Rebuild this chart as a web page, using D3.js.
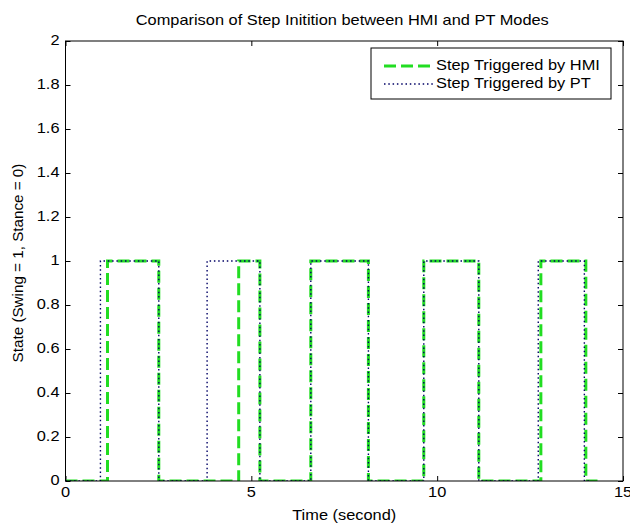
<!DOCTYPE html>
<html>
<head>
<meta charset="utf-8">
<script src="https://cdn.jsdelivr.net/npm/d3@7"></script>
<style>
  html, body { margin: 0; padding: 0; background: #ffffff; }
  svg { display: block; }
  text { font-family: "Liberation Sans", Arial, Helvetica, sans-serif; fill: #000; }
</style>
</head>
<body>
<svg id="chart" width="630" height="525"></svg>
<script>
// ---- data ----
const title = "Comparison of Step Initition between HMI and PT Modes";
const xLabel = "Time (second)";
const yLabel = "State (Swing = 1, Stance = 0)";
const seriesNames = ["Step Triggered by HMI", "Step Triggered by PT"];

const hmiTimes  = [0, 1.13, 2.51, 4.66, 5.23, 6.60, 8.15, 9.64, 11.12, 12.79, 14.00, 14.35];
const hmiStates = [0, 1,    0,    1,    0,    1,    0,    1,    0,     1,     0,     0];

const ptTimes   = [0, 0.94, 2.51, 3.81, 5.23, 6.60, 8.15, 9.64, 11.12, 12.72, 13.96, 14.10];
const ptStates  = [0, 1,    0,    1,    0,    1,    0,    1,    0,     1,     0,     0];

const xTicks = [0, 5, 10, 15];
const yTicks = [0, 0.2, 0.4, 0.6, 0.8, 1, 1.2, 1.4, 1.6, 1.8, 2];

// ---- layout ----
const svg = d3.select("#chart");
const L = 65.5, R = 623, T = 41, B = 481;
const x = d3.scaleLinear().domain([0, 15]).range([L, R]);
const y = d3.scaleLinear().domain([0, 2]).range([B, T]);

const fontSize = 14.5;
const sx = 1.13; // horizontal stretch of glyphs, as in the reference

const hmiColor = "#22dd22", ptColor = "#000066";

// helper: stretched text
function sText(parent, tx, ty, str, anchor, rot) {
  const g = parent.append("g").attr("transform", `translate(${tx},${ty})` + (rot ? ` rotate(${rot})` : "") + ` scale(${sx},1)`);
  g.append("text").attr("text-anchor", anchor).attr("dominant-baseline", "middle")
    .attr("font-size", fontSize).text(str);
  return g;
}

// axes box with inward ticks (labels drawn separately, stretched)
const tickLen = 5;
const gx = svg.append("g").attr("transform", `translate(0,${B})`)
  .call(d3.axisBottom(x).tickValues(xTicks).tickSizeInner(-tickLen).tickSizeOuter(0).tickFormat(""));
const gxTop = svg.append("g").attr("transform", `translate(0,${T})`)
  .call(d3.axisTop(x).tickValues(xTicks).tickSizeInner(-tickLen).tickSizeOuter(0).tickFormat(""));
const gy = svg.append("g").attr("transform", `translate(${L},0)`)
  .call(d3.axisLeft(y).tickValues(yTicks).tickSizeInner(-tickLen).tickSizeOuter(0).tickFormat(""));
const gyR = svg.append("g").attr("transform", `translate(${R},0)`)
  .call(d3.axisRight(y).tickValues(yTicks).tickSizeInner(-tickLen).tickSizeOuter(0).tickFormat(""));

[gx, gxTop, gy, gyR].forEach(g => {
  g.select(".domain").remove();
  g.selectAll(".tick line").attr("stroke", "#000").attr("stroke-width", 1);
});

const fmt = d3.format("~g");
xTicks.forEach(v => sText(svg, x(v), 493, fmt(v), "middle"));
yTicks.forEach(v => sText(svg, L - 6, y(v), fmt(v), "end"));

// plot lines
const lineHmi = d3.line().x((d, i) => x(hmiTimes[i])).y((d, i) => y(hmiStates[i])).curve(d3.curveStepAfter);
const linePt  = d3.line().x((d, i) => x(ptTimes[i])).y((d, i) => y(ptStates[i])).curve(d3.curveStepAfter);

svg.append("clipPath").attr("id", "plotclip")
  .append("rect").attr("x", L).attr("y", T - 2).attr("width", R - L).attr("height", B - T + 2);

const plot = svg.append("g").attr("clip-path", "url(#plotclip)");
plot.append("path").attr("d", lineHmi(hmiTimes))
  .attr("fill", "none").attr("stroke", hmiColor).attr("stroke-width", 3)
  .attr("stroke-dasharray", "12,5");
plot.append("path").attr("d", linePt(ptTimes))
  .attr("fill", "none").attr("stroke", ptColor).attr("stroke-width", 1.4)
  .attr("stroke-dasharray", "1.5,2.8");

// box
svg.append("rect").attr("x", L).attr("y", T).attr("width", R - L).attr("height", B - T)
  .attr("fill", "none").attr("stroke", "#000").attr("stroke-width", 1);

// title & labels
sText(svg, (L + R) / 2 - 2, 21, title, "middle");
sText(svg, (L + R) / 2, 516, xLabel, "middle");
svg.append("g").attr("transform", `translate(19,${(T + B) / 2 + 2}) rotate(-90) scale(1.05,1)`)
  .append("text").attr("text-anchor", "middle").attr("dominant-baseline", "middle")
  .attr("font-size", fontSize).text(yLabel);

// legend
const lg = svg.append("g");
const lx = 371, ly = 48, lw = 240, lh = 51;
lg.append("rect").attr("x", lx).attr("y", ly).attr("width", lw).attr("height", lh)
  .attr("fill", "#fff").attr("stroke", "#000").attr("stroke-width", 1);
const rows = [
  { name: seriesNames[0], color: hmiColor, w: 3, dash: "12,5" },
  { name: seriesNames[1], color: ptColor, w: 1.4, dash: "1.5,2.8" }
];
rows.forEach((r, i) => {
  const yy = ly + 18 + i * 18;
  lg.append("line").attr("x1", lx + 13).attr("x2", lx + 62).attr("y1", yy).attr("y2", yy)
    .attr("stroke", r.color).attr("stroke-width", r.w).attr("stroke-dasharray", r.dash);
  sText(lg, lx + 65, yy, r.name, "start");
});
</script>
</body>
</html>
